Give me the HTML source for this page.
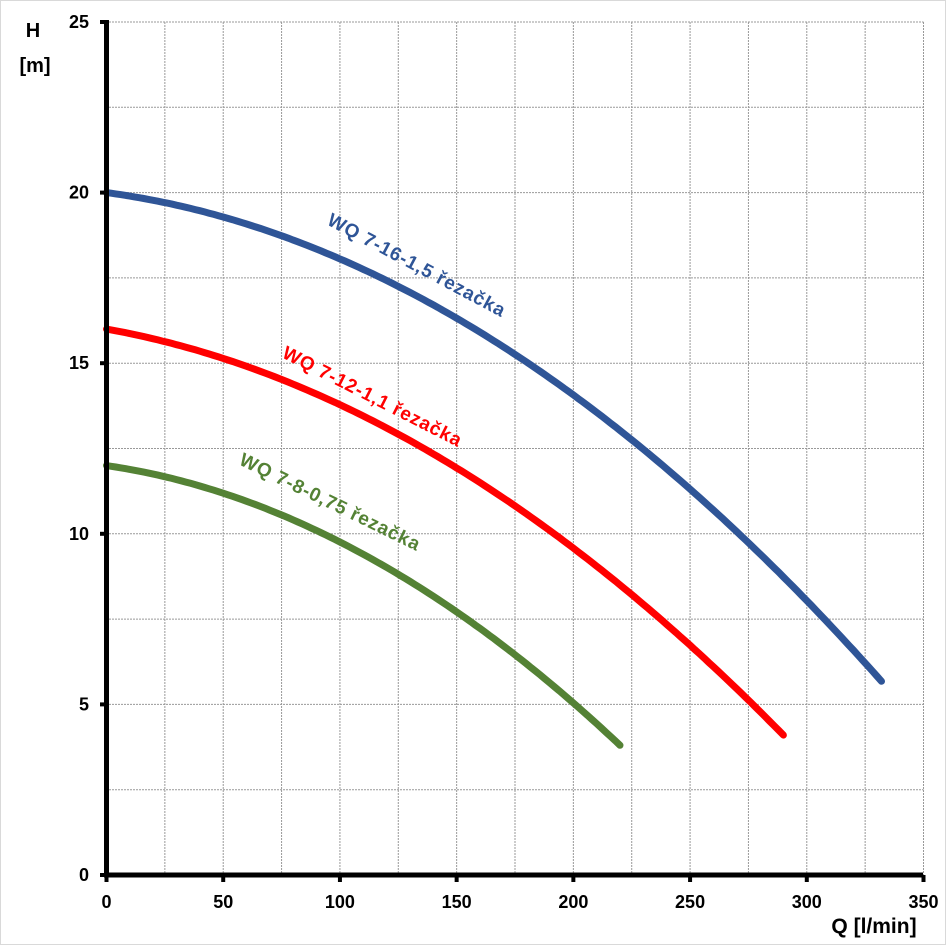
<!DOCTYPE html>
<html><head><style>body{margin:0;background:#fff}svg{display:block}</style></head>
<body>
<svg id="s" width="946" height="946" xmlns="http://www.w3.org/2000/svg" font-family="Liberation Sans, sans-serif" font-weight="bold">
<rect x="0" y="0" width="946" height="946" fill="#fff"/>
<rect x="0.5" y="0.5" width="945" height="944" fill="none" stroke="#d9d9d9"/>
<g id="grid" stroke="#999" stroke-width="1" stroke-dasharray="2,1"></g>
<g id="curves" fill="none" stroke-width="7" stroke-linecap="round"></g>
<line x1="106.5" y1="20" x2="106.5" y2="877" stroke="#000" stroke-width="5"/>
<line x1="104" y1="875" x2="923" y2="875" stroke="#000" stroke-width="5"/>
<g id="ticks" font-size="18" fill="#000"></g>
<text x="33" y="37" font-size="20" text-anchor="middle">H</text>
<text x="35" y="72" font-size="20" text-anchor="middle">[m]</text>
<text x="874" y="933" font-size="21" text-anchor="middle">Q [l/min]</text>
<text font-size="19" letter-spacing="0.8" fill="#2f5597" transform="translate(326,224) rotate(28)">WQ 7-16-1,5 řezačka</text>
<text font-size="19" letter-spacing="0.8" fill="#ff0000" transform="translate(281,357) rotate(27)">WQ 7-12-1,1 řezačka</text>
<text font-size="19" letter-spacing="0.8" fill="#548235" transform="translate(238,464) rotate(26)">WQ 7-8-0,75 řezačka</text>
</svg>
<script>
var NS="http://www.w3.org/2000/svg";
function X(q){return 106.5+q*2.3343}
function Y(h){return 875-h*34.12}
var g=document.getElementById('grid'),t=document.getElementById('ticks'),c=document.getElementById('curves');
function el(p,n,a){var e=document.createElementNS(NS,n);for(var k in a)e.setAttribute(k,a[k]);p.appendChild(e);return e}
for(var q=25;q<=350;q+=25)el(g,'line',{x1:X(q),y1:Y(25),x2:X(q),y2:875});
for(var h=2.5;h<=25;h+=2.5)el(g,'line',{x1:106,y1:Y(h),x2:X(350),y2:Y(h)});
for(var q=0;q<=350;q+=50){el(t,'line',{x1:X(q),y1:875,x2:X(q),y2:882,stroke:'#000','stroke-width':4});var e=el(t,'text',{x:X(q),y:908,'text-anchor':'middle'});e.textContent=q}
for(var h=0;h<=25;h+=5){el(t,'line',{x1:100,y1:Y(h),x2:107,y2:Y(h),stroke:'#000','stroke-width':4});var e=el(t,'text',{x:89,y:Y(h)+6,'text-anchor':'end'});e.textContent=h}
function curve(h0,a,b,qm,col){var d='';for(var q=0;q<=qm;q+=2){d+=(q?'L':'M')+X(q).toFixed(1)+','+Y(h0-a*q-b*q*q).toFixed(1)}
el(c,'path',{d:d,stroke:col})}
curve(20,0.00921,1.022e-4,333,'#2f5597');
curve(16,0.01224,9.93e-5,290,'#ff0000');
curve(12,0.01001,1.239e-4,220,'#548235');
</script>
</body></html>
